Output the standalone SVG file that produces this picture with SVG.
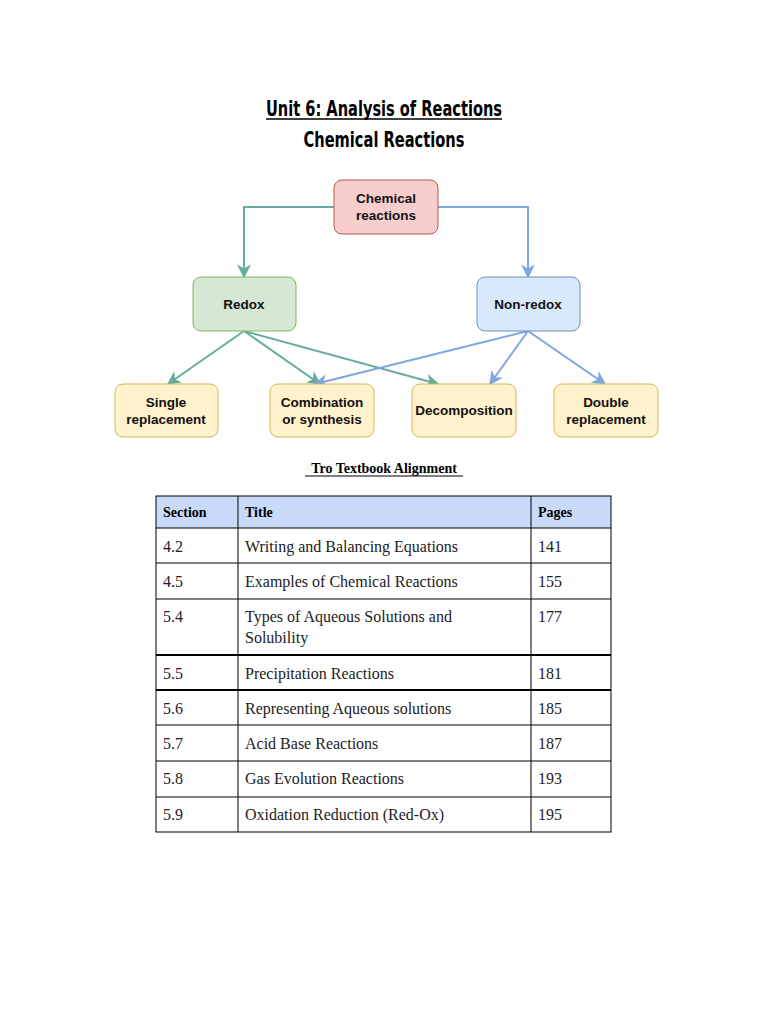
<svg xmlns="http://www.w3.org/2000/svg" width="768" height="1024" viewBox="0 0 768 1024">
<style>
.t{font-family:"Liberation Sans Narrow","DejaVu Sans Condensed","Liberation Sans",sans-serif;font-weight:bold;font-size:21px;fill:#000;text-anchor:middle}
.n{font-family:"Liberation Sans",Arial,sans-serif;font-weight:bold;font-size:13.5px;fill:#111;text-anchor:middle}
.c{font-family:"Liberation Serif","Times New Roman",serif;font-size:16px;fill:#222}
.h{font-family:"Liberation Serif","Times New Roman",serif;font-size:14px;font-weight:bold;fill:#000}
.g{fill:none;stroke:#67ab9f;stroke-width:2}
.b{fill:none;stroke:#7ea6e0;stroke-width:2}
.grid{stroke:#000;stroke-width:1}
</style>
<defs>
<marker id="ag" viewBox="0 0 10 10" refX="9" refY="5" markerWidth="7" markerHeight="7" orient="auto"><path d="M0,0L10,5L0,10L3,5z" fill="#67ab9f"/></marker>
<marker id="ab" viewBox="0 0 10 10" refX="9" refY="5" markerWidth="7" markerHeight="7" orient="auto"><path d="M0,0L10,5L0,10L3,5z" fill="#7ea6e0"/></marker>
</defs>
<rect width="768" height="1024" fill="#fff"/>
<text class="t" x="384" y="116" textLength="236" lengthAdjust="spacingAndGlyphs">Unit 6: Analysis of Reactions</text>
<line x1="266" y1="119" x2="502" y2="119" stroke="#000" stroke-width="1.5"/>
<text class="t" x="384" y="147" textLength="161" lengthAdjust="spacingAndGlyphs">Chemical Reactions</text>
<g id="connectors">
<path class="g" d="M334,207H244V277" marker-end="url(#ag)"/>
<path class="b" d="M438,207H528V277" marker-end="url(#ab)"/>
<path class="g" d="M244,331L168,384" marker-end="url(#ag)"/>
<path class="g" d="M244,331L320,384" marker-end="url(#ag)"/>
<path class="g" d="M244,331L438,384" marker-end="url(#ag)"/>
<path class="b" d="M528,331L315,384" marker-end="url(#ab)"/>
<path class="b" d="M528,331L490,384" marker-end="url(#ab)"/>
<path class="b" d="M528,331L605,384" marker-end="url(#ab)"/>
</g>
<g id="chem"><rect x="334" y="180" width="104" height="54" rx="8" fill="#f8cecc" stroke="#b85450"/><text class="n" x="386" y="203">Chemical</text><text class="n" x="386" y="220">reactions</text></g>
<g id="redox"><rect x="193" y="277" width="103" height="54" rx="8" fill="#d5e8d4" stroke="#82b366"/><text class="n" x="244" y="309">Redox</text></g>
<g id="nonredox"><rect x="477" y="277" width="103" height="54" rx="8" fill="#dae8fc" stroke="#6c8ebf"/><text class="n" x="528" y="309">Non-redox</text></g>
<g id="single"><rect x="115" y="384" width="103" height="53" rx="8" fill="#fff2cc" stroke="#d6b656"/><text class="n" x="166" y="407">Single</text><text class="n" x="166" y="424">replacement</text></g>
<g id="comb"><rect x="270" y="384" width="104" height="53" rx="8" fill="#fff2cc" stroke="#d6b656"/><text class="n" x="322" y="407">Combination</text><text class="n" x="322" y="424">or synthesis</text></g>
<g id="decomp"><rect x="412" y="384" width="104" height="53" rx="8" fill="#fff2cc" stroke="#d6b656"/><text class="n" x="464" y="415">Decomposition</text></g>
<g id="double"><rect x="554" y="384" width="104" height="53" rx="8" fill="#fff2cc" stroke="#d6b656"/><text class="n" x="606" y="407">Double</text><text class="n" x="606" y="424">replacement</text></g>
<text class="h" x="384" y="473" text-anchor="middle">Tro Textbook Alignment</text>
<line x1="305" y1="476" x2="463" y2="476" stroke="#000"/>
<g id="table">
<rect x="156" y="496" width="455" height="32" fill="#c9daf8"/>
<g class="grid">
<rect x="156" y="496" width="455" height="336" fill="none"/>
<line x1="238" y1="496" x2="238" y2="832"/><line x1="531" y1="496" x2="531" y2="832"/>
<line x1="156" y1="528" x2="611" y2="528"/><line x1="156" y1="563" x2="611" y2="563"/>
<line x1="156" y1="599" x2="611" y2="599"/><line x1="156" y1="655" x2="611" y2="655" stroke-width="2"/>
<line x1="156" y1="690" x2="611" y2="690" stroke-width="2"/><line x1="156" y1="725" x2="611" y2="725"/>
<line x1="156" y1="761" x2="611" y2="761"/><line x1="156" y1="797" x2="611" y2="797"/>
</g>
<text class="h" x="163" y="517">Section</text><text class="h" x="245" y="517">Title</text><text class="h" x="538" y="517">Pages</text>
<text class="c" x="163" y="552">4.2</text><text class="c" x="245" y="552">Writing and Balancing Equations</text><text class="c" x="538" y="552">141</text>
<text class="c" x="163" y="587">4.5</text><text class="c" x="245" y="587">Examples of Chemical Reactions</text><text class="c" x="538" y="587">155</text>
<text class="c" x="163" y="622">5.4</text><text class="c" x="245" y="622">Types of Aqueous Solutions and</text><text class="c" x="245" y="643">Solubility</text><text class="c" x="538" y="622">177</text>
<text class="c" x="163" y="679">5.5</text><text class="c" x="245" y="679">Precipitation Reactions</text><text class="c" x="538" y="679">181</text>
<text class="c" x="163" y="714">5.6</text><text class="c" x="245" y="714">Representing Aqueous solutions</text><text class="c" x="538" y="714">185</text>
<text class="c" x="163" y="749">5.7</text><text class="c" x="245" y="749">Acid Base Reactions</text><text class="c" x="538" y="749">187</text>
<text class="c" x="163" y="784">5.8</text><text class="c" x="245" y="784">Gas Evolution Reactions</text><text class="c" x="538" y="784">193</text>
<text class="c" x="163" y="820">5.9</text><text class="c" x="245" y="820">Oxidation Reduction (Red-Ox)</text><text class="c" x="538" y="820">195</text>
</g>
</svg>
